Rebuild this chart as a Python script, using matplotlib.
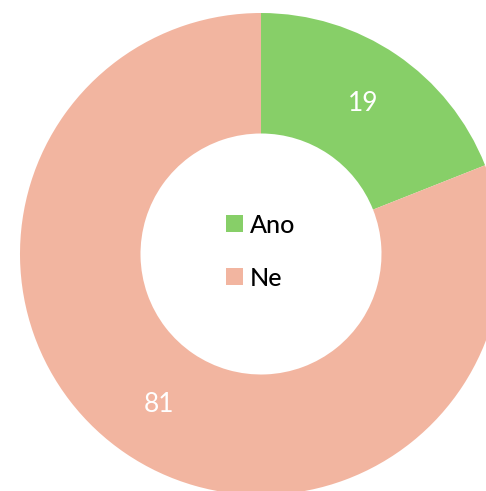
import numpy as np
import matplotlib.pyplot as plt

labels = ["Ano", "Ne"]
values = [19, 81]
colors = ["#87CF68", "#F2B5A0"]

plt.rcParams['font.family'] = ['Lato', 'DejaVu Sans']

fig = plt.figure(figsize=(4.86, 4.91), dpi=100)
# donut centre at (261, 254) px, radius 241 px
ax = fig.add_axes([20 / 486, (491 - 254 - 241) / 491, 482 / 486, 482 / 491])

wedges, texts = ax.pie(values, colors=colors, startangle=90, counterclock=False,
                       radius=1, wedgeprops=dict(width=0.5, linewidth=0))
for w, v in zip(wedges, values):
    ang = np.deg2rad((w.theta1 + w.theta2) / 2)
    ax.text(0.755 * np.cos(ang), 0.755 * np.sin(ang), str(v), ha="center", va="center",
            color="white", fontsize=19)

ax.set_xlim(-1, 1)
ax.set_ylim(-1, 1)

leg = ax.legend(wedges, labels, loc="center", frameon=False, fontsize=18,
                labelspacing=1.2, handlelength=0.65, handleheight=0.65, handletextpad=0.3,
                bbox_to_anchor=(0.5, 0.505))
for t in leg.get_texts():
    t.set_fontweight("medium")

fig.savefig("out.png", dpi=100)
